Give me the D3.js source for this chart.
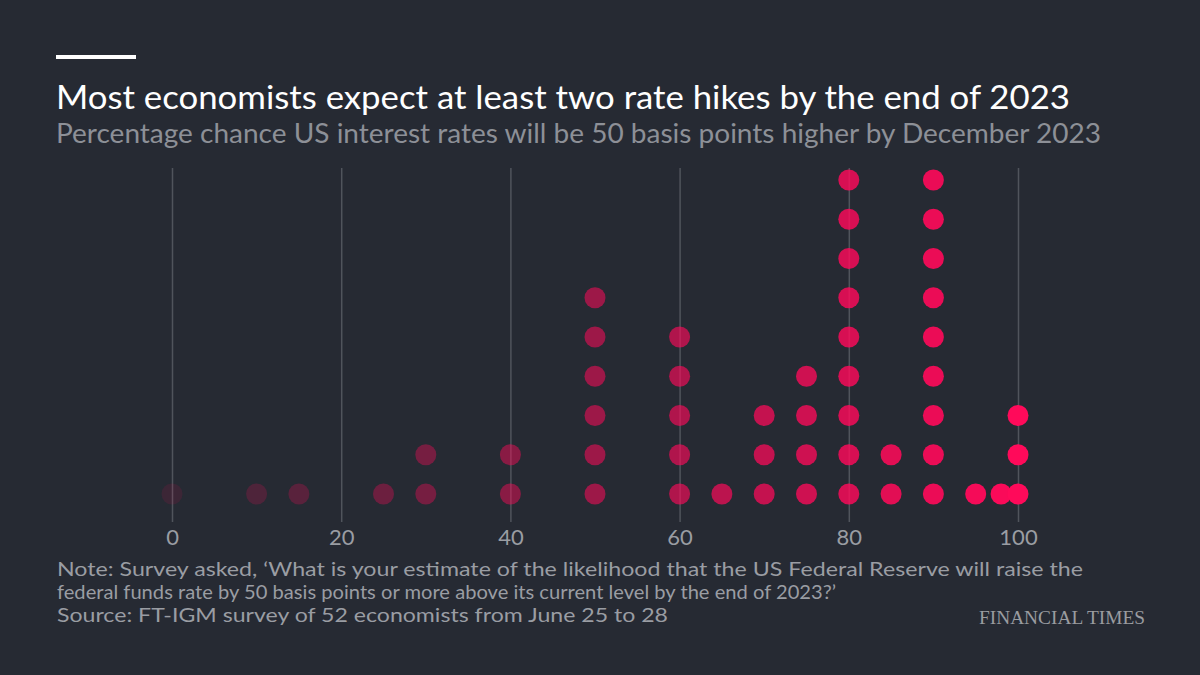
<!DOCTYPE html>
<html>
<head>
<meta charset="utf-8">
<script src="https://cdn.jsdelivr.net/npm/d3@7"></script>
<style>
  body { margin: 0; background: #262a33; }
  svg { display: block; }
</style>
</head>
<body>
<div id="chart"></div>
<script>
// answers (percentage chance) and how many economists gave each one
const answers = [0, 10, 15, 25, 30, 40, 50, 60, 65, 70, 75, 80, 85, 90, 95, 98, 100]
const counts  = [1, 1, 1, 1, 2, 2, 6, 5, 1, 3, 4, 9, 2, 9, 1, 1, 3]
const xTicks = [0, 20, 40, 60, 80, 100]

const title = 'Most economists expect at least two rate hikes by the end of 2023'
const subtitle = 'Percentage chance US interest rates will be 50 basis points higher by December 2023'
const notes = [
  'Note: Survey asked, \u2018What is your estimate of the likelihood that the US Federal Reserve will raise the',
  'federal funds rate by 50 basis points or more above its current level by the end of 2023?\u2019',
  'Source: FT-IGM survey of 52 economists from June 25 to 28'
]

const width = 1200
const height = 675
const sans = 'Lato, "Noto Sans", sans-serif'

// one dot per economist, stacked upwards
let dots = []
answers.forEach(function (a, i) {
  d3.range(counts[i]).forEach(function (k) {
    dots.push({ value: a, stack: k })
  })
})

const x = d3.scaleLinear().domain([0, 100]).range([172, 1018])
const y = d3.scaleLinear().domain([0, 8]).range([494, 180])
const opacity = d3.scaleLinear().domain([0, 100]).range([0.1, 1])

let svg = d3.select('#chart').append('svg')
  .attr('width', width)
  .attr('height', height)

svg.append('rect')
  .attr('width', width).attr('height', height)
  .attr('fill', '#262a33')

// little white bar on top
svg.append('rect')
  .attr('x', 56).attr('y', 55)
  .attr('width', 80).attr('height', 4)
  .attr('fill', '#ffffff')

svg.append('text')
  .attr('x', 56).attr('y', 109)
  .style('font-family', sans)
  .attr('font-size', 33)
  .attr('fill', '#ffffff')
  .attr('textLength', 1014)
  .attr('lengthAdjust', 'spacingAndGlyphs')
  .text(title)

svg.append('text')
  .attr('x', 56).attr('y', 143)
  .style('font-family', sans)
  .attr('font-size', 26)
  .attr('fill', '#8d9097')
  .attr('textLength', 1045)
  .attr('lengthAdjust', 'spacingAndGlyphs')
  .text(subtitle)

// grid + axis
let axis = svg.append('g')
  .attr('transform', 'translate(0,522)')
  .call(d3.axisBottom(x).tickValues(xTicks).tickSize(-354).tickPadding(7))

axis.select('.domain').remove()
axis.selectAll('.tick line')
  .attr('stroke', '#50545c')
  .attr('stroke-width', 1.5)
axis.selectAll('.tick text')
  .style('font-family', sans)
  .attr('font-size', 22)
  .attr('fill', '#9a9da3')
  .attr('dy', '0.71em')

svg.append('g')
  .selectAll('circle')
  .data(dots)
  .enter()
  .append('circle')
  .attr('cx', d => x(d.value))
  .attr('cy', d => y(d.stack))
  .attr('r', 10.5)
  .attr('fill', '#ff0a5a')
  .attr('fill-opacity', d => opacity(d.value))

const noteWidths = [1026, 779, 611]
svg.append('g')
  .selectAll('text')
  .data(notes)
  .enter()
  .append('text')
  .attr('x', 57)
  .attr('y', (d, i) => 576 + i * 23)
  .style('font-family', sans)
  .attr('font-size', 19)
  .attr('fill', '#9a9da3')
  .attr('textLength', (d, i) => noteWidths[i])
  .attr('lengthAdjust', 'spacingAndGlyphs')
  .text(d => d)

svg.append('text')
  .attr('x', 1145).attr('y', 624)
  .attr('text-anchor', 'end')
  .style('font-family', '"Liberation Serif", "DejaVu Serif", serif')
  .attr('font-size', 18)
  .attr('fill', '#9a9ca0')
  .attr('textLength', 166)
  .attr('lengthAdjust', 'spacingAndGlyphs')
  .text('FINANCIAL TIMES')
</script>
</body>
</html>
